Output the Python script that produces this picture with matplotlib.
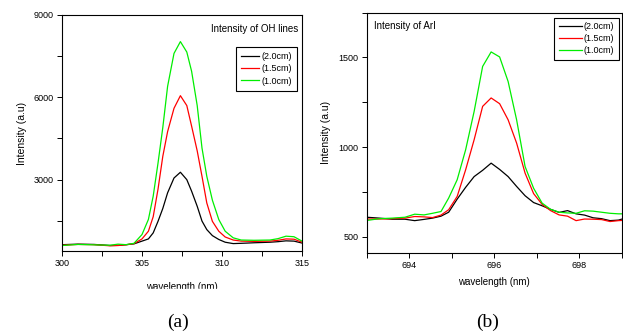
import matplotlib
matplotlib.use("Agg")
import matplotlib.pyplot as plt
from matplotlib.ticker import MultipleLocator
from matplotlib.patches import Rectangle

plt.rcParams['font.family'] = ['Liberation Sans', 'DejaVu Sans']

# ---- data: OH lines (a) ----
x_oh = [300, 301, 302, 303, 303.5, 304, 304.5, 305, 305.4, 305.7, 306.0, 306.3, 306.6,
        307.0, 307.4, 307.8, 308.1, 308.45, 308.75, 309.05, 309.4, 309.8, 310.2, 310.7,
        311.2, 312, 313, 313.5, 314, 314.5, 315]
oh_20 = [630, 650, 640, 600, 605, 630, 660, 760, 840, 1060, 1480, 1950, 2520,
         3060, 3270, 3000, 2580, 2030, 1490, 1180, 960, 820, 720, 670,
         680, 700, 720, 740, 770, 760, 690]
oh_15 = [610, 640, 630, 590, 600, 625, 670, 840, 1120, 1650, 2650, 3850, 4750,
         5600, 6060, 5700, 4950, 4050, 3120, 2150, 1480, 1120, 910, 800,
         760, 750, 760, 790, 840, 830, 720]
oh_10 = [600, 640, 625, 610, 650, 630, 680, 1000, 1550, 2400, 3600, 4900, 6400,
         7600, 8030, 7650, 6950, 5700, 4150, 3121, 2250, 1546, 1120, 880,
         800, 790, 800, 850, 940, 920, 760]

# ---- data: ArI (b) ----
x_ar = [693.0, 693.3, 693.6, 693.9, 694.13, 694.35, 694.55, 694.75, 694.93, 695.13,
        695.33, 695.53, 695.73, 695.93, 696.13, 696.33, 696.53, 696.73, 696.93, 697.13,
        697.33, 697.53, 697.73, 697.93, 698.13, 698.33, 698.53, 698.73, 698.93, 699.0]
ar_20 = [608, 603, 597, 597, 589, 596, 603, 614, 636, 709,
         775, 835, 870, 910, 875, 835, 780, 728, 690, 672,
         652, 635, 645, 627, 620, 605, 600, 589, 592, 597]
ar_15 = [598, 598, 600, 603, 612, 610, 606, 620, 650, 724,
         873, 1041, 1227, 1274, 1242, 1152, 1022, 854, 740, 680,
         645, 621, 614, 589, 598, 597, 595, 584, 589, 590]
ar_10 = [590, 600, 603, 608, 625, 621, 630, 640, 715, 817,
         985, 1199, 1450, 1531, 1503, 1366, 1152, 891, 770, 687,
         652, 636, 632, 630, 644, 642, 636, 630, 627, 627]

labels = ["(2.0cm)", "(1.5cm)", "(1.0cm)"]
colors = ["black", "#ff0000", "#00ee00"]

W, H = 623, 335
fig = plt.figure(figsize=(W / 100, H / 100), dpi=100)

def ax_rect(x0, y0, x1, y1):
    return [x0 / W, 1 - y1 / H, (x1 - x0) / W, (y1 - y0) / H]

ax1 = fig.add_axes(ax_rect(62, 15, 302, 251))
ax2 = fig.add_axes(ax_rect(366.7, 12.7, 621.5, 252.7))

fs = 6.5
for ax in (ax1, ax2):
    ax.tick_params(which='both', direction='out', length=3.5, width=0.7,
                   labelsize=fs, pad=2.5, top=False, right=False)
    for s in ax.spines.values():
        s.set_linewidth(0.8)
    ax.set_ylabel("Intensity (a.u)", fontsize=7.5, labelpad=5)

for ys, lab, c in zip([oh_20, oh_15, oh_10], labels, colors):
    ax1.plot(x_oh, ys, color=c, lw=0.9, label=lab)
ax1.set_xlim(300, 315)
ax1.set_ylim(400, 9000)
ax1.xaxis.set_major_locator(MultipleLocator(5))
ax1.xaxis.set_minor_locator(MultipleLocator(2.5))
ax1.yaxis.set_major_locator(MultipleLocator(3000))
ax1.yaxis.set_minor_locator(MultipleLocator(1500))
ax1.set_xlabel("wavelength (nm)", fontsize=7, labelpad=9.5)
ax1.text(0.985, 0.94, "Intensity of OH lines", transform=ax1.transAxes,
         ha='right', va='center', fontsize=7)
leg1 = ax1.legend(loc='upper right', bbox_to_anchor=(0.98, 0.865), fontsize=fs,
                  frameon=True, fancybox=False, edgecolor='black', framealpha=1,
                  handlelength=2.0, handletextpad=0.2, labelspacing=0.35,
                  borderpad=0.6, borderaxespad=0)
leg1.get_frame().set_linewidth(0.8)

for ys, lab, c in zip([ar_20, ar_15, ar_10], labels, colors):
    ax2.plot(x_ar, ys, color=c, lw=0.9, label=lab)
ax2.set_xlim(693, 699)
ax2.set_ylim(410, 1750)
ax2.xaxis.set_major_locator(MultipleLocator(2))
ax2.xaxis.set_minor_locator(MultipleLocator(1))
ax2.yaxis.set_major_locator(MultipleLocator(500))
ax2.yaxis.set_minor_locator(MultipleLocator(250))
ax2.set_xlabel("wavelength (nm)", fontsize=7, labelpad=5)
ax2.text(0.03, 0.945, "Intensity of ArI", transform=ax2.transAxes,
         ha='left', va='center', fontsize=7)
leg2 = ax2.legend(loc='upper right', bbox_to_anchor=(0.99, 0.98), fontsize=fs,
                  frameon=True, fancybox=False, edgecolor='black', framealpha=1,
                  handlelength=2.6, handletextpad=0.2, labelspacing=0.35,
                  borderpad=0.5, borderaxespad=0)
leg2.get_frame().set_linewidth(0.8)

fig.text(178 / W, 1 - 322 / H, "(a)", ha='center', va='center',
         fontsize=14, family='Liberation Serif')
fig.text(488 / W, 1 - 322 / H, "(b)", ha='center', va='center',
         fontsize=14, family='Liberation Serif')

# the original scan clips the bottom of the left axis label
fig.patches.append(Rectangle((120 / W, 1 - 295 / H), 120 / W, 6.5 / H,
                             transform=fig.transFigure, color='white', zorder=10))

fig.savefig("out.png", dpi=100)
